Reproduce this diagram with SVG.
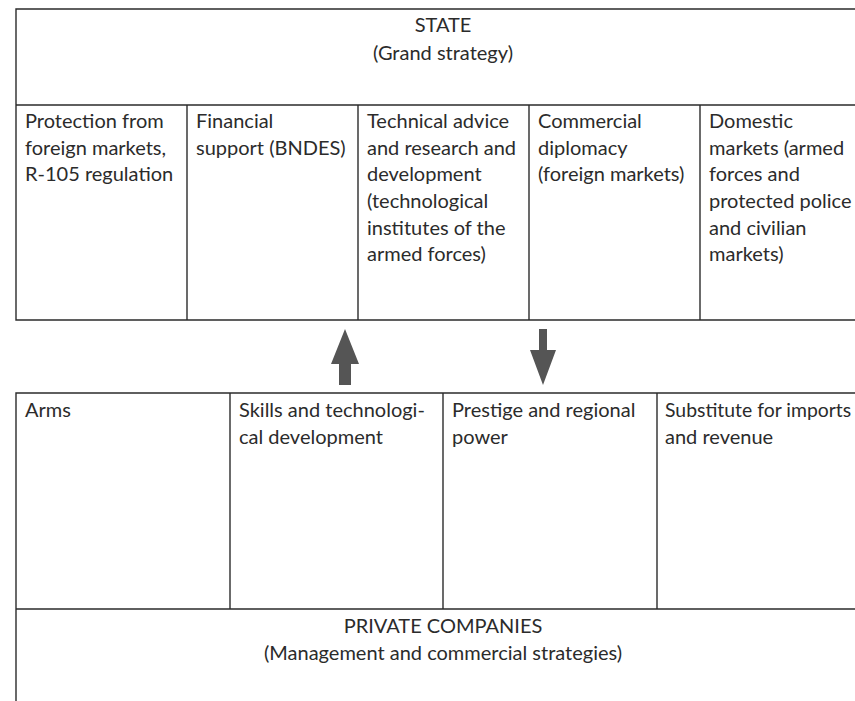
<svg xmlns="http://www.w3.org/2000/svg" width="855" height="701" viewBox="0 0 855 701">
<style>
.b{fill:none;stroke:#2b2b2b;stroke-width:1.4}
text{font-family:Lato,"Open Sans","Liberation Sans",sans-serif;font-size:20px;fill:#2b2b2b}
.c{text-anchor:middle}
.ar{fill:#555}
</style>
<rect width="855" height="701" fill="#fff"/>
<g id="state">
<path class="b" d="M860 9H16V320H860M16 105H860"/>
<text class="c" x="443" y="32">STATE</text>
<text class="c" x="443" y="60">(Grand strategy)</text>
</g>
<g id="protection">
<text x="25" y="128">Protection from</text>
<text x="25" y="155">foreign markets,</text>
<text x="25" y="181">R-105 regulation</text>
</g>
<g id="financial">
<path class="b" d="M187 105V320"/>
<text x="196" y="128">Financial</text>
<text x="196" y="155">support (BNDES)</text>
</g>
<g id="technical">
<path class="b" d="M358 105V320"/>
<text x="367" y="128">Technical advice</text>
<text x="367" y="155">and research and</text>
<text x="367" y="181">development</text>
<text x="367" y="208">(technological</text>
<text x="367" y="235">institutes of the</text>
<text x="367" y="261">armed forces)</text>
</g>
<g id="commercial">
<path class="b" d="M529 105V320"/>
<text x="538" y="128">Commercial</text>
<text x="538" y="155">diplomacy</text>
<text x="538" y="181">(foreign markets)</text>
</g>
<g id="domestic">
<path class="b" d="M700 105V320"/>
<text x="709" y="128">Domestic</text>
<text x="709" y="155">markets (armed</text>
<text x="709" y="181">forces and</text>
<text x="709" y="208">protected police</text>
<text x="709" y="235">and civilian</text>
<text x="709" y="261">markets)</text>
</g>
<g id="connectors">
<path class="ar" d="M339 385V364H331L345 329L359 364H351V385Z"/>
<path class="ar" d="M539 329V350H530L543 385L556 350H547V329Z"/>
</g>
<g id="companies">
<path class="b" d="M860 393H16V701M16 609H860"/>
<text class="c" x="443" y="633">PRIVATE COMPANIES</text>
<text class="c" x="443" y="660">(Management and commercial strategies)</text>
</g>
<g id="arms">
<text x="25" y="417">Arms</text>
</g>
<g id="skills">
<path class="b" d="M230 393V609"/>
<text x="239" y="417">Skills and technologi-</text>
<text x="239" y="444">cal development</text>
</g>
<g id="prestige">
<path class="b" d="M443 393V609"/>
<text x="452" y="417">Prestige and regional</text>
<text x="452" y="444">power</text>
</g>
<g id="substitute">
<path class="b" d="M657 393V609"/>
<text x="665" y="417" style="font-size:19.4px">Substitute for imports</text>
<text x="665" y="444">and revenue</text>
</g>
</svg>
